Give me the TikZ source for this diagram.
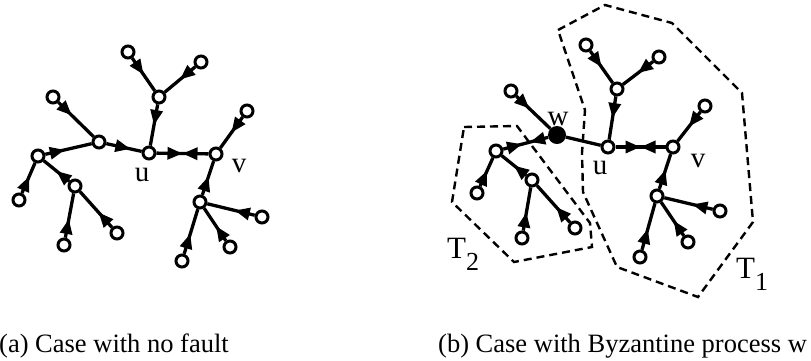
\documentclass[tikz,border=0pt]{standalone}
\usepackage{fontspec}
\setmainfont{Liberation Serif}
\usetikzlibrary{arrows.meta,decorations.markings}
\tikzset{
  nd/.style={circle, draw=black, line width=3pt, fill=white, minimum size=12pt, inner sep=0pt},
  bz/.style={circle, fill=black, minimum size=18pt, inner sep=0pt},
  ed/.style={line width=3.3pt},
  ar/.style={ed, postaction={decorate}, decoration={markings, mark=at position #1 with {\arrow{Triangle[length=15pt,width=12pt]}}}},
  ar/.default=0.5,
  dbl/.style 2 args={ed, postaction={decorate}, decoration={markings,
      mark=at position #1 with {\arrow{Triangle[length=15pt,width=12pt]}},
      mark=at position #2 with {\arrowreversed{Triangle[length=15pt,width=12pt]}}}},
  hull/.style={line width=2.4pt, dash pattern=on 8pt off 5pt, line join=miter},
  lbl/.style={font=\fontsize{29}{29}\selectfont, inner sep=0pt},
  tlbl/.style={font=\fontsize{31}{31}\selectfont, inner sep=0pt, anchor=base west},
  captxt/.style={font=\fontsize{26.5}{26.5}\selectfont, inner sep=0pt, anchor=base west},
}
\newcommand{\subdig}[1]{\raisebox{-12pt}{\fontsize{26}{26}\selectfont #1}}
\begin{document}
\begin{tikzpicture}[x=1pt,y=-1pt]
\useasboundingbox (0,0) rectangle (811,360);

% ---------- (a) ----------
\node[nd] (u)   at (149,153) {};
\node[nd] (v)   at (216,154) {};
\node[nd] (a1)  at (159,97) {};
\node[nd] (a1l) at (128,52) {};
\node[nd] (a1r) at (201,62) {};
\node[nd] (b)   at (99,142) {};
\node[nd] (bl)  at (53,97) {};
\node[nd] (c)   at (38,156) {};
\node[nd] (cl)  at (19,200) {};
\node[nd] (d)   at (75,186) {};
\node[nd] (dl)  at (64,245) {};
\node[nd] (dr)  at (117,233) {};
\node[nd] (vl)  at (247,111) {};
\node[nd] (e)   at (200,202) {};
\node[nd] (er)  at (262,217) {};
\node[nd] (edr) at (230,247) {};
\node[nd] (edn) at (182,261) {};

\draw[ar=0.5] (a1l) -- (a1);
\draw[ar=0.5] (a1r) -- (a1);
\draw[ar=0.5] (a1) -- (u);
\draw[ar=0.68] (b) -- (u);
\draw[ar=0.38] (bl) -- (b);
\draw[ar=0.42] (c) -- (b);
\draw[ar=0.55] (cl) -- (c);
\draw[ar=0.5] (d) -- (c);
\draw[ar=0.42] (dl) -- (d);
\draw[ar=0.42] (dr) -- (d);
\draw[dbl={0.5}{0.5}] (u) -- (v);
\draw[ar=0.5] (vl) -- (v);
\draw[ar=0.55] (e) -- (v);
\draw[ar=0.42] (er) -- (e);
\draw[ar=0.45] (edr) -- (e);
\draw[ar=0.45] (edn) -- (e);

\node[lbl] (ulab) at (142,175) {u};
\node[lbl] (vlab) at (239,166) {v};

% ---------- (b) ----------
\draw[hull] (464,127) -- (517,126) -- (590,223) -- (592,247) -- (514,262) -- (452,202) -- cycle;
\draw[hull] (558,30) -- (605,5) -- (672,23) -- (742,93) -- (753,222) -- (698,297) -- (617,267) -- (583,192) -- (582,153) -- (585,110) -- cycle;

\node[nd] (U)   at (608,147) {};
\node[nd] (V)   at (673,147) {};
\node[nd] (A)   at (617,89) {};
\node[nd] (Al)  at (586,45) {};
\node[nd] (Ar)  at (659,57) {};
\node[bz] (W)   at (557,135) {};
\node[nd] (Wl)  at (511,91) {};
\node[nd] (C)   at (496,151) {};
\node[nd] (Cl)  at (477,193) {};
\node[nd] (D)   at (532,180) {};
\node[nd] (Dl)  at (522,238) {};
\node[nd] (Dr)  at (575,228) {};
\node[nd] (Vl)  at (705,106) {};
\node[nd] (E)   at (657,196) {};
\node[nd] (Er)  at (720,211) {};
\node[nd] (Edr) at (688,242) {};
\node[nd] (Edn) at (640,257) {};

\draw[ar=0.5] (Al) -- (A);
\draw[ar=0.5] (Ar) -- (A);
\draw[ar=0.5] (A) -- (U);
\draw[ed] (W) -- (U);
\draw[ar=0.38] (Wl) -- (W);
\draw[dbl={0.42}{0.6}] (C) -- (W);
\draw[ar=0.55] (Cl) -- (C);
\draw[ar=0.5] (D) -- (C);
\draw[ar=0.42] (Dl) -- (D);
\draw[ar=0.42] (Dr) -- (D);
\draw[dbl={0.5}{0.5}] (U) -- (V);
\draw[ar=0.5] (Vl) -- (V);
\draw[ar=0.55] (E) -- (V);
\draw[ar=0.42] (Er) -- (E);
\draw[ar=0.45] (Edr) -- (E);
\draw[ar=0.45] (Edn) -- (E);

\node[lbl] (wlab) at (558,119) {w};
\node[lbl] (Ulab) at (600,168) {u};
\node[lbl] (Vlab) at (698,161) {v};
\node[tlbl] (t2) at (447,258) {T\subdig{2}};
\node[tlbl] (t1) at (736,278) {T\subdig{1}};

% ---------- captions ----------
\node[captxt] (capa) at (-1,352) {(a) Case with no fault};
\node[captxt] (capb) at (438,352) {(b) Case with Byzantine process w};
\end{tikzpicture}
\end{document}
